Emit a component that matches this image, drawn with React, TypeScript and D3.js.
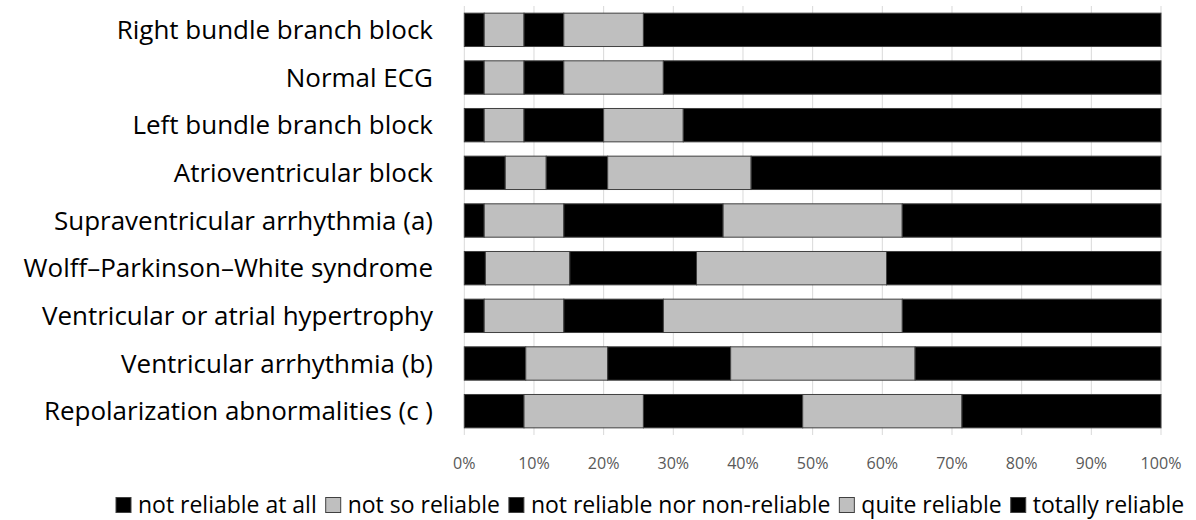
import React, { useEffect, useRef } from "react";
import * as d3 from "d3";

const categories = [
  "Right bundle branch block",
  "Normal ECG",
  "Left bundle branch block",
  "Atrioventricular block",
  "Supraventricular arrhythmia (a)",
  "Wolff–Parkinson–White syndrome",
  "Ventricular or atrial hypertrophy",
  "Ventricular arrhythmia (b)",
  "Repolarization abnormalities (c )",
];

const seriesNames = [
  "not reliable at all",
  "not so reliable",
  "not reliable nor non-reliable",
  "quite reliable",
  "totally reliable",
];

const notReliableAtAll = [2.86, 2.86, 2.86, 5.88, 2.86, 3.03, 2.86, 8.82, 8.57];
const notSoReliable = [5.71, 5.71, 5.71, 5.88, 11.43, 12.12, 11.43, 11.76, 17.14];
const neitherReliable = [5.71, 5.71, 11.43, 8.82, 22.86, 18.18, 14.29, 17.65, 22.86];
const quiteReliable = [11.43, 14.29, 11.43, 20.59, 25.71, 27.27, 34.29, 26.47, 22.86];
const totallyReliable = [74.29, 71.43, 68.57, 58.82, 37.14, 39.39, 37.14, 35.29, 28.57];

const tickValues = [0, 10, 20, 30, 40, 50, 60, 70, 80, 90, 100];
const seriesColors = ["#000000", "#bfbfbf", "#000000", "#bfbfbf", "#000000"];

const FONT = "'Open Sans', 'Noto Sans', sans-serif";

export default function App() {
  const ref = useRef<SVGSVGElement | null>(null);

  useEffect(() => {
    const svg = d3.select(ref.current);
    svg.selectAll("*").remove();
    const W = 1196, H = 520;
    const m = { left: 464.3, right: 1196 - 1161, top: 6, bottom: 520 - 435 };

    const measure = (s: string, size: number) => {
      const t = svg.append("text").attr("font-family", FONT).attr("font-size", size).text(s);
      const w = (t.node() as SVGTextElement).getComputedTextLength();
      t.remove();
      return w;
    };
    const fit = (s: string, target: number) => (20 * target) / measure(s, 20);

    const catSize = (fit("Right bundle branch block", 310) + fit("Repolarization abnormalities (c )", 397)) / 2;
    const tickSize = (fit("100%", 40) + fit("0%", 23)) / 2;

    const x = d3.scaleLinear().domain([0, 100]).range([m.left, W - m.right]);
    const y = d3.scaleBand<string>().domain(categories).range([m.top, H - m.bottom]).paddingInner(0.3).paddingOuter(0.15);

    const allSeries = [notReliableAtAll, notSoReliable, neitherReliable, quiteReliable, totallyReliable];
    const rows = categories.map((c, i) => {
      const o: any = { cat: c };
      seriesNames.forEach((s, j) => (o[s] = allSeries[j][i]));
      return o;
    });
    const stacked = d3.stack<any>().keys(seriesNames)(rows);

    // gridlines
    svg.append("g").selectAll("line").data(tickValues).join("line")
      .attr("x1", (d) => x(d)).attr("x2", (d) => x(d))
      .attr("y1", m.top).attr("y2", H - m.bottom)
      .attr("stroke", "#d9d9d9").attr("stroke-width", 1);

    // bars
    svg.append("g").selectAll("g").data(stacked).join("g")
      .attr("fill", (_d, i) => seriesColors[i])
      .selectAll("rect").data((d) => d).join("rect")
      .attr("x", (d) => x(d[0]))
      .attr("width", (d) => x(d[1]) - x(d[0]))
      .attr("y", (d) => y(d.data.cat)!)
      .attr("height", y.bandwidth())
      .attr("stroke", "#404040").attr("stroke-width", 1);

    // category labels
    svg.append("g").selectAll("text").data(categories).join("text")
      .attr("x", 433)
      .attr("y", (d) => y(d)! + y.bandwidth() / 2)
      .attr("dy", "0.35em")
      .attr("text-anchor", "end")
      .attr("font-family", FONT)
      .attr("font-size", catSize)
      .attr("fill", "#000")
      .text((d) => d);

    // tick labels
    svg.append("g").selectAll("text").data(tickValues).join("text")
      .attr("x", (d) => x(d))
      .attr("y", 463)
      .attr("dy", "0.35em")
      .attr("text-anchor", "middle")
      .attr("font-family", FONT)
      .attr("font-size", tickSize)
      .attr("fill", "#595959")
      .text((d) => d + "%");

    // legend
    const legendStart = 116, legendEnd = 1185, box = 15, boxGap = 7, gap = 9;
    const rawTotal = d3.sum(seriesNames, (s) => measure(s, 20));
    const fixed = seriesNames.length * (box + boxGap) + gap * (seriesNames.length - 1);
    const legSize = (20 * (legendEnd - legendStart - fixed)) / rawTotal;
    const lg = svg.append("g");
    let cx = legendStart;
    seriesNames.forEach((s, i) => {
      const g = lg.append("g").attr("transform", `translate(${cx},505)`);
      g.append("rect").attr("x", 0).attr("y", -box / 2).attr("width", box).attr("height", box)
        .attr("fill", seriesColors[i]).attr("stroke", "#404040").attr("stroke-width", 1);
      const t = g.append("text").attr("x", box + boxGap).attr("y", 0).attr("dy", "0.35em")
        .attr("font-family", FONT).attr("font-size", legSize).attr("fill", "#000").text(s);
      cx += box + boxGap + (t.node() as SVGTextElement).getComputedTextLength() + gap;
    });
  }, []);

  return <svg ref={ref} width={1196} height={520} style={{ display: "block", position: "absolute", left: 0, top: 0 }} />;
}
